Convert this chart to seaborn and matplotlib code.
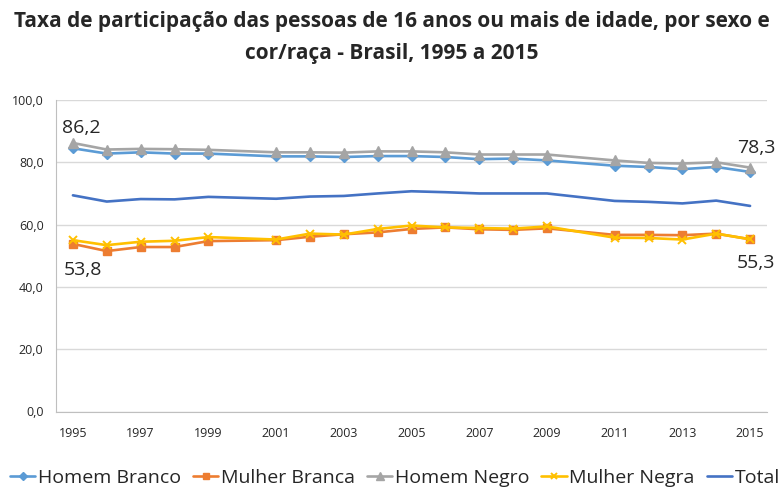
import matplotlib
matplotlib.use("Agg")
import matplotlib.pyplot as plt
from matplotlib.ticker import FixedLocator, FuncFormatter
import pandas as pd
import seaborn as sns

years = [1995, 1996, 1997, 1998, 1999, 2001, 2002, 2003, 2004, 2005, 2006,
         2007, 2008, 2009, 2011, 2012, 2013, 2014, 2015]
homem_branco = [84.5, 82.8, 83.2, 82.8, 82.8, 81.9, 81.9, 81.7, 82.0, 82.0,
                81.7, 81.0, 81.2, 80.6, 78.9, 78.5, 77.8, 78.5, 76.9]
mulher_branca = [53.8, 51.5, 52.8, 52.8, 54.7, 55.0, 56.1, 56.9, 57.5, 58.6,
                 59.1, 58.5, 58.3, 58.8, 56.7, 56.7, 56.6, 57.1, 55.3]
homem_negro = [86.2, 84.1, 84.3, 84.2, 84.0, 83.2, 83.2, 83.1, 83.5, 83.5,
               83.2, 82.5, 82.5, 82.5, 80.6, 79.8, 79.6, 80.0, 78.3]
mulher_negra = [55.0, 53.4, 54.5, 54.8, 56.0, 55.2, 57.1, 56.8, 58.6, 59.7,
                59.1, 58.9, 58.7, 59.4, 55.8, 55.7, 55.2, 57.1, 55.3]
total = [69.4, 67.4, 68.2, 68.1, 68.9, 68.3, 69.0, 69.2, 70.0, 70.7,
         70.4, 70.0, 70.0, 70.0, 67.6, 67.3, 66.8, 67.7, 66.0]

series = {
    "Homem Branco": homem_branco,
    "Mulher Branca": mulher_branca,
    "Homem Negro": homem_negro,
    "Mulher Negra": mulher_negra,
    "Total": total,
}
styles = {
    "Homem Branco": dict(color="#5B9BD5", marker="D", markersize=5),
    "Mulher Branca": dict(color="#ED7D31", marker="s", markersize=5.5),
    "Homem Negro": dict(color="#A5A5A5", marker="^", markersize=6.5),
    "Mulher Negra": dict(color="#FFC000", marker="x", markersize=6, markeredgewidth=1.4),
    "Total": dict(color="#4472C4", marker=None),
}

df = pd.DataFrame({"ano": years, **series}).melt(id_vars="ano", var_name="grupo", value_name="taxa")

sns.set_style("white")
plt.rcParams["font.family"] = ["Open Sans", "DejaVu Sans"]

fig = plt.figure(figsize=(7.84, 4.88), dpi=100)
ax = fig.add_axes([56 / 784, (488 - 411.5) / 488, (767 - 56) / 784, 311.5 / 488])

for name in series:
    st = styles[name]
    sns.lineplot(data=df[df["grupo"] == name], x="ano", y="taxa", ax=ax,
                 color=st["color"], marker=st["marker"], markersize=st.get("markersize", 6),
                 markeredgecolor=st["color"], markeredgewidth=st.get("markeredgewidth", 1),
                 linewidth=1.9, label=name)

ax.set_xlim(1994.5, 2015.5)
ax.set_ylim(0, 100)
ax.set_yticks(range(0, 101, 20))
ax.yaxis.set_major_formatter(FuncFormatter(lambda v, p: f"{v:.1f}".replace(".", ",")))
ax.set_xticks(range(1995, 2016, 2))
ax.xaxis.set_minor_locator(FixedLocator([1994.5 + 2 * i for i in range(11)]))
ax.tick_params(axis="x", which="major", length=0, pad=11, labelsize=9)
ax.tick_params(axis="x", which="minor", length=4, color="#BFBFBF", width=1)
ax.tick_params(axis="y", length=4, color="#BFBFBF", labelsize=9, pad=5)
ax.set_xlabel("")
ax.set_ylabel("")
ax.grid(axis="y", color="#D9D9D9", linewidth=1)
for side in ["top", "right"]:
    ax.spines[side].set_visible(False)
for side in ["left", "bottom"]:
    ax.spines[side].set_color("#BFBFBF")
ax.legend_.remove()

lab = dict(fontsize=14, ha="center", va="center", textcoords="offset pixels")
ax.annotate("86,2", (years[0], homem_negro[0]), xytext=(8, 15), **lab)
ax.annotate("53,8", (years[0], mulher_branca[0]), xytext=(10, -26), **lab)
ax.annotate("78,3", (years[-1], homem_negro[-1]), xytext=(6, 20), **lab)
ax.annotate("55,3", (years[-1], mulher_branca[-1]), xytext=(6, -24), **lab)

fig.text(0.5, 1 - 22 / 488, "Taxa de participação das pessoas de 16 anos ou mais de idade, por sexo e",
         ha="center", va="center", fontsize=15.0, fontweight="bold")
fig.text(0.5, 1 - 53 / 488, "cor/raça - Brasil, 1995 a 2015",
         ha="center", va="center", fontsize=15.0, fontweight="bold")

handles, labels = ax.get_legend_handles_labels()
fig.legend(handles, labels, loc="center", bbox_to_anchor=(395 / 784, 1 - 478 / 488),
           ncol=5, frameon=False, fontsize=14, handlelength=1.3, handletextpad=0.15,
           columnspacing=0.6, borderpad=0, markerscale=0.8)

fig.savefig("out.png", dpi=100)
